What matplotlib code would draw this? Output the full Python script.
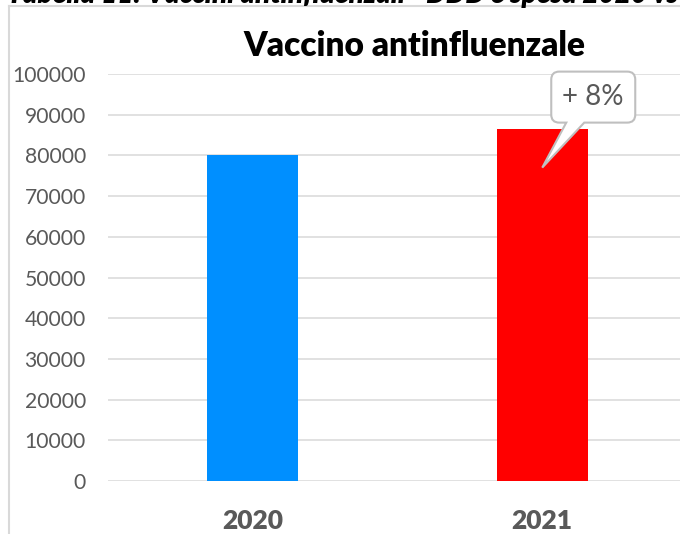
import matplotlib
matplotlib.use("Agg")
import matplotlib.pyplot as plt
from matplotlib.path import Path
from matplotlib.patches import PathPatch
from matplotlib.lines import Line2D

categories = ["2020", "2021"]
values = [80000, 86400]
colors = ["#008FFF", "#FF0000"]
callout_text = "+ 8%"
yticks = [0, 10000, 20000, 30000, 40000, 50000, 60000, 70000, 80000, 90000, 100000]

plt.rcParams['font.family'] = ['Lato', 'DejaVu Sans']

W, H = 680, 534
fig = plt.figure(figsize=(W / 100, H / 100), dpi=100)
ax = fig.add_axes([108 / W, (H - 481) / H, (687 - 108) / W, (481 - 74) / H])

x = list(range(len(categories)))
ax.bar(x, values, width=0.314, color=colors, zorder=2)
ax.set_xlim(-0.5, 1.5)
ax.set_ylim(0, 100000)
ax.set_yticks(yticks)
ax.set_yticklabels([str(v) for v in yticks])
ax.set_xticks(x)
ax.set_xticklabels(categories, fontsize=19, fontweight='heavy', color='#595959')
ax.tick_params(axis='y', length=0, pad=16, labelsize=15.2, labelcolor='#595959')
ax.tick_params(axis='x', length=0, pad=20)
ax.grid(axis='y', color='#d9d9d9', linewidth=1.1, zorder=0)
ax.set_axisbelow(True)
for s in ax.spines.values():
    s.set_visible(False)

# title
fig.text(414 / W, 1 - 56 / H, "Vaccino antinfluenzale", ha='center', va='baseline',
         fontsize=24, fontweight='heavy', color='black')

# cut-off caption above chart
fig.text(7 / W, 1 - 2.5 / H, "Tabella 11: Vaccini antinfluenzali - DDD e spesa 2020 vs 2021",
         ha='left', va='baseline', fontsize=20, fontweight='heavy', style='italic', color='black')

# chart frame
fig.add_artist(Line2D([9 / W, 9 / W], [0, 1 - 6 / H], transform=fig.transFigure,
                      color='#d9d9d9', linewidth=1.5))
fig.add_artist(Line2D([9 / W, 1], [1 - 6 / H, 1 - 6 / H], transform=fig.transFigure,
                      color='#d9d9d9', linewidth=1.5))

# callout
tx, ty = ax.transData.transform((1.0, 77000))
def P(dx, dy):
    return (tx + dx, ty - dy)
L, R, T, B, r = 9, 93, -96, -45, 8
verts = [P(L + r, T), P(R - r, T), P(R, T), P(R, T + r), P(R, B - r), P(R, B), P(R - r, B),
         P(42, B), P(0, 0), P(24, B),
         P(L + r, B), P(L, B), P(L, B - r), P(L, T + r), P(L, T), P(L + r, T), P(L + r, T)]
codes = [Path.MOVETO, Path.LINETO, Path.CURVE3, Path.CURVE3, Path.LINETO, Path.CURVE3, Path.CURVE3,
         Path.LINETO, Path.LINETO, Path.LINETO,
         Path.LINETO, Path.CURVE3, Path.CURVE3, Path.LINETO, Path.CURVE3, Path.CURVE3, Path.CLOSEPOLY]
patch = PathPatch(Path(verts, codes), transform=None, facecolor='white',
                  edgecolor='#bfbfbf', linewidth=1.5, zorder=5)
fig.add_artist(patch)
cx, cy = P((L + R) / 2, (T + B) / 2)
fig.text(cx / W, cy / H, callout_text, ha='center', va='center', fontsize=20,
         color='#595959', zorder=6)

fig.savefig("out.png", dpi=100)
